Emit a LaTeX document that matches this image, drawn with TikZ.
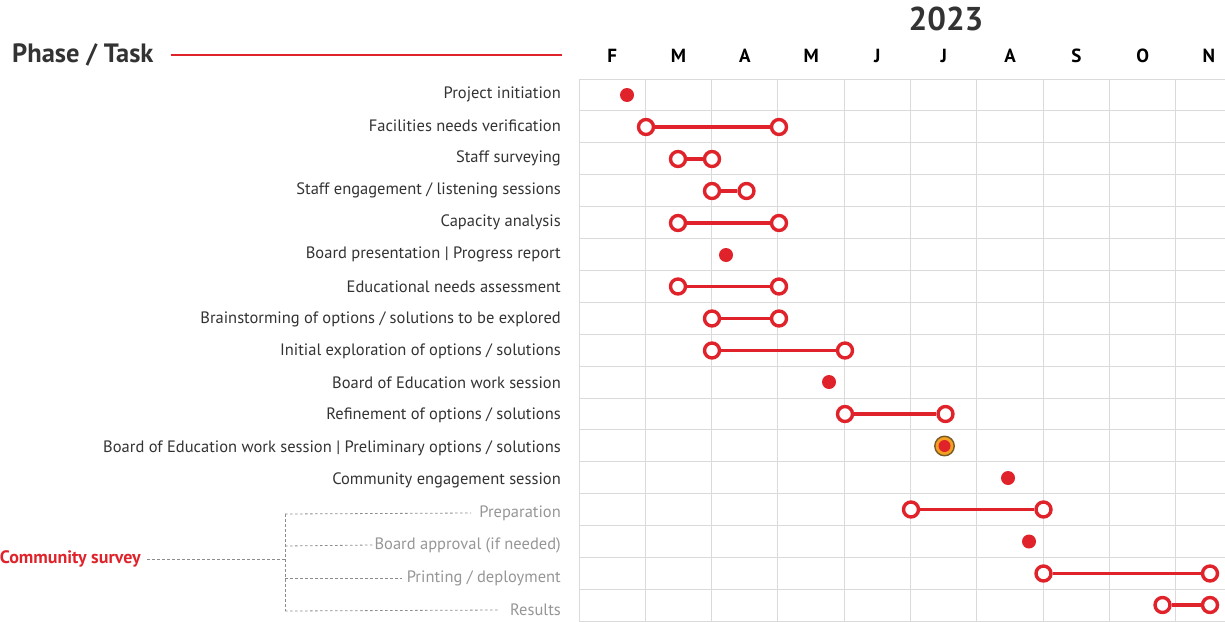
\documentclass[tikz,border=0pt]{standalone}
\usepackage{fontspec}
\setmainfont{PT Sans}
\definecolor{ganttred}{RGB}{224,35,43}
\definecolor{gridgray}{RGB}{218,218,218}
\definecolor{labeldark}{RGB}{51,51,51}
\definecolor{labelsoft}{RGB}{150,150,150}
\definecolor{dashgray}{RGB}{140,140,140}
\definecolor{ringbrown}{RGB}{120,90,40}
\definecolor{fillorange}{RGB}{244,160,32}
\begin{document}
\begin{tikzpicture}[x=1pt,y=-1pt,
  tasklabel/.style={anchor=east,text=labeldark,font=\fontsize{16.5}{18}\selectfont,inner sep=0pt},
  sublabel/.style={anchor=east,text=labelsoft,font=\fontsize{16.5}{18}\selectfont,inner sep=0pt},
  month/.style={font=\bfseries\fontsize{19}{21}\selectfont,text=black,inner sep=0pt},
  gridline/.style={draw=gridgray,line width=0.9pt},
  openmark/.style={circle,draw=ganttred,fill=white,line width=3.4pt,minimum size=15pt,inner sep=0pt},
  dotmark/.style={circle,fill=ganttred,minimum size=14pt,inner sep=0pt},
  keymark/.style={circle,draw=ringbrown,fill=fillorange,line width=1.4pt,minimum size=19.5pt,inner sep=0pt},
  keycore/.style={circle,fill=ganttred,minimum size=12pt,inner sep=0pt},
  bar/.style={draw=ganttred,line width=3.8pt},
  dashlink/.style={draw=dashgray,line width=0.8pt,dash pattern=on 2.5pt off 2.5pt}
]
\useasboundingbox (0,0) rectangle (1225,621);

% calendar grid
\foreach \k in {0,...,9} \draw[gridline] (579+66.3*\k,79) -- (579+66.3*\k,621);
\foreach \j in {0,...,17} \draw[gridline] (579,79+31.9*\j) -- (1225,79+31.9*\j);

% headings
\node[font=\bfseries\fontsize{26.5}{30}\selectfont,text=labeldark,anchor=west,inner sep=0pt] (head) at (12,55) {Phase / Task};
\coordinate (rule) at (562,55);
\draw[ganttred,line width=1.2pt] (head.east) ++(17,0) coordinate (rulestart) -- (rule);
\node[font=\bfseries\fontsize{33}{36}\selectfont,text=labeldark,inner sep=0pt] (year) at (946,19) {2023};
\foreach \m [count=\i from 0] in {F,M,A,M,J,J,A,S,O,N}
  \node[month] (m\i) at (612.2+66.3*\i,56) {\m};

% task labels
\node[tasklabel] (t1) at (561,94) {Project initiation};
\node[tasklabel] (t2) at (561,126) {Facilities needs verification};
\node[tasklabel] (t3) at (561,158) {Staff surveying};
\node[tasklabel] (t4) at (561,190) {Staff engagement / listening sessions};
\node[tasklabel] (t5) at (561,222) {Capacity analysis};
\node[tasklabel] (t6) at (561,254) {Board presentation | Progress report};
\node[tasklabel] (t7) at (561,287) {Educational needs assessment};
\node[tasklabel] (t8) at (561,319) {Brainstorming of options / solutions to be explored};
\node[tasklabel] (t9) at (561,351) {Initial exploration of options / solutions};
\node[tasklabel] (t10) at (561,383) {Board of Education work session};
\node[tasklabel] (t11) at (561,415) {Refinement of options / solutions};
\node[tasklabel] (t12) at (561,448) {Board of Education work session | Preliminary options / solutions};
\node[tasklabel] (t13) at (561,480) {Community engagement session};
\node[sublabel] (t14) at (561,513) {Preparation};
\node[sublabel] (t15) at (561,545) {Board approval (if needed)};
\node[sublabel] (t16) at (561,578) {Printing / deployment};
\node[sublabel] (t17) at (561,610) {Results};

% survey group bracket
\node[anchor=east,inner sep=0pt,text=ganttred,font=\bfseries\fontsize{18}{20}\selectfont] (survey) at (141,559) {Community survey};
\coordinate (jn) at (285,559);
\coordinate (b14) at (285,514);
\coordinate (b15) at (285,546);
\coordinate (b16) at (285,578);
\coordinate (b17) at (285,611);
\draw[dashlink] (survey.east) ++(6,0) -- (jn);
\draw[dashlink] (b14) -- (b17);
\draw[dashlink] (b14) -- ([xshift=-8pt]t14.west);
\draw[dashlink] (b15) -- ([xshift=-2pt]t15.west);
\draw[dashlink] (b16) -- ([xshift=-5pt]t16.west);
\draw[dashlink] (b17) -- ([xshift=-11pt]t17.west);

% milestones and task spans
\node[dotmark] (d1) at (627,95) {};
\node[openmark] (s2) at (646,127) {};
\node[openmark] (e2) at (779,127) {};
\node[openmark] (s3) at (678,159) {};
\node[openmark] (e3) at (712,159) {};
\node[openmark] (s4) at (712,191) {};
\node[openmark] (e4) at (746.5,191) {};
\node[openmark] (s5) at (678,223) {};
\node[openmark] (e5) at (779,223) {};
\node[dotmark] (d6) at (726,255) {};
\node[openmark] (s7) at (678,286.5) {};
\node[openmark] (e7) at (779,286.5) {};
\node[openmark] (s8) at (712,318.5) {};
\node[openmark] (e8) at (779,318.5) {};
\node[openmark] (s9) at (712,350.5) {};
\node[openmark] (e9) at (845,350.5) {};
\node[dotmark] (d10) at (829,382) {};
\node[openmark] (s11) at (845,414) {};
\node[openmark] (e11) at (945.5,414) {};
\node[keymark] (k12) at (944.5,446) {};
\node[keycore] (k12c) at (k12.center) {};
\node[dotmark] (d13) at (1008,478) {};
\node[openmark] (s14) at (911,509.5) {};
\node[openmark] (e14) at (1043.5,509.5) {};
\node[dotmark] (d15) at (1029,541.5) {};
\node[openmark] (s16) at (1043.5,573.5) {};
\node[openmark] (e16) at (1210,573.5) {};
\node[openmark] (s17) at (1162.5,605) {};
\node[openmark] (e17) at (1210,605) {};

\foreach \r in {2,3,4,5,7,8,9,11,14,16,17}
  \draw[bar] (s\r) -- (e\r);

\end{tikzpicture}
\end{document}
